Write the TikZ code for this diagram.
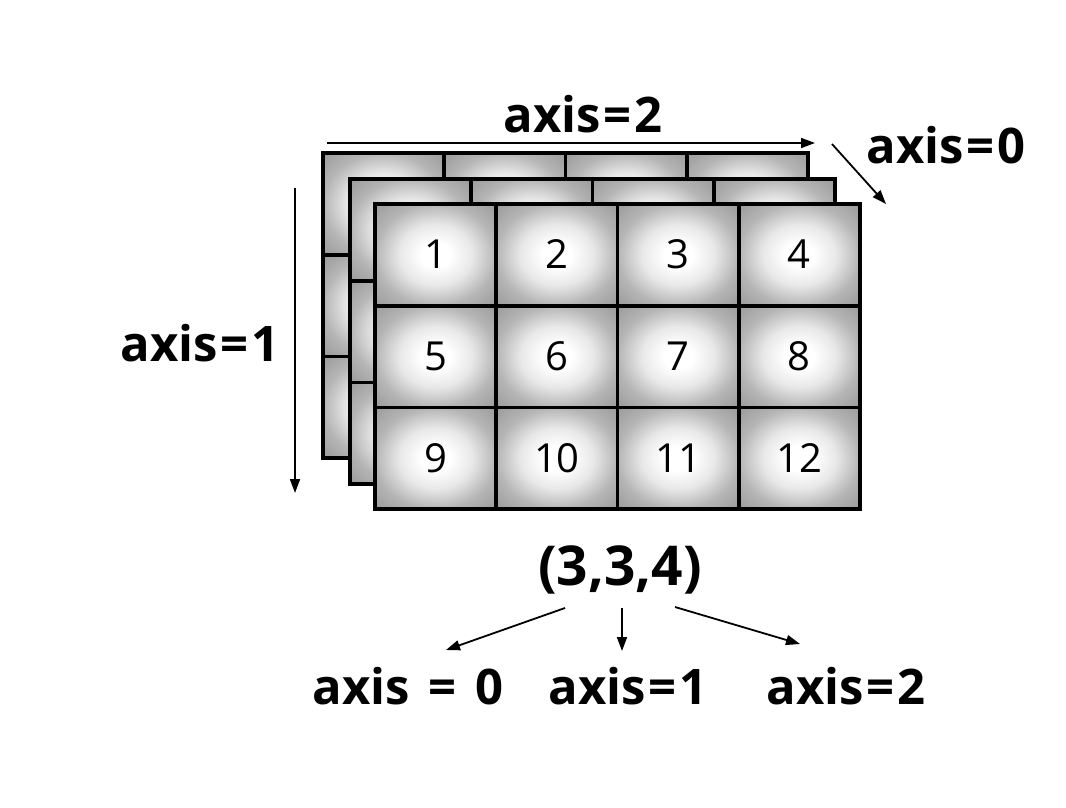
\documentclass[tikz,border=0pt]{standalone}
\usepackage{fontspec}
\setmainfont{Open Sans}
\usetikzlibrary{arrows.meta}
\pgfdeclareradialshading{cellshade}{\pgfpoint{0bp}{0bp}}{color(0bp)=(white); color(6bp)=(white); color(15bp)=(black!9); color(25bp)=(black!29); color(36bp)=(black!40); color(100bp)=(black!40)}
\newcommand{\eqs}{\kern3pt=\kern3pt}
\begin{document}
\begin{tikzpicture}[x=1pt,y=-1pt,
  cell/.style={draw, line width=3.6pt, shading=cellshade, minimum width=121.25pt, minimum height=101.7pt, inner sep=0pt, outer sep=0pt, text height=28pt, text depth=0pt, font=\fontsize{40}{40}\selectfont},
  lbl/.style={font=\fontsize{49}{49}\selectfont\bfseries, inner sep=0pt},
  shp/.style={font=\fontsize{55}{55}\selectfont\bfseries, inner sep=0pt},
  arr/.style={line width=1.8pt, -{Triangle[length=14pt,width=10pt]}}]
\useasboundingbox (0,0) rectangle (1066,808);
% layers back to front
\foreach \ly/\dx/\dy in {b/-52/-51, m/-25/-25} {
  \foreach \r in {1,2,3} {
    \foreach \c in {1,2,3,4} {
      \node[cell] (\ly-\r-\c) at ({375+\dx+(\c-0.5)*121.25}, {204+\dy+(\r-0.5)*101.7}) {};
    }
  }
}
\foreach \r in {1,2,3} {
  \foreach \c in {1,2,3,4} {
    \pgfmathtruncatemacro{\n}{(\r-1)*4+\c}
    \node[cell] (f-\r-\c) at ({375+(\c-0.5)*121.25}, {204+(\r-0.5)*101.7}) {\n};
  }
}
% labels
\node[lbl] (ax2top) at (583,114) {axis\eqs 2};
\node[lbl] (ax0top) at (946,145) {axis\eqs 0};
\node[lbl] (ax1left) at (200,343) {axis\eqs 1};
\node[shp] (shape) at (620,570) {(3,3,4)};
\node[lbl] (b0) at (408,686) {axis\kern19pt=\kern19pt0};
\node[lbl] (b1) at (628,686) {axis\eqs 1};
\node[lbl] (b2) at (846,686) {axis\eqs 2};
% arrow coordinates
\coordinate (h1) at (327,143); \coordinate (h2) at (815,143);
\coordinate (d1) at (832,144); \coordinate (d2) at (886,204);
\coordinate (v1) at (295,188); \coordinate (v2) at (295,493);
\coordinate (s0) at (565,608); \coordinate (e0) at (446,650);
\coordinate (s1) at (622,608); \coordinate (e1) at (622,651);
\coordinate (s2) at (675,607); \coordinate (e2) at (800,644);
\draw[arr] (h1) -- (h2);
\draw[arr] (d1) -- (d2);
\draw[arr] (v1) -- (v2);
\draw[arr] (s0) -- (e0);
\draw[arr] (s1) -- (e1);
\draw[arr] (s2) -- (e2);
\end{tikzpicture}
\end{document}
